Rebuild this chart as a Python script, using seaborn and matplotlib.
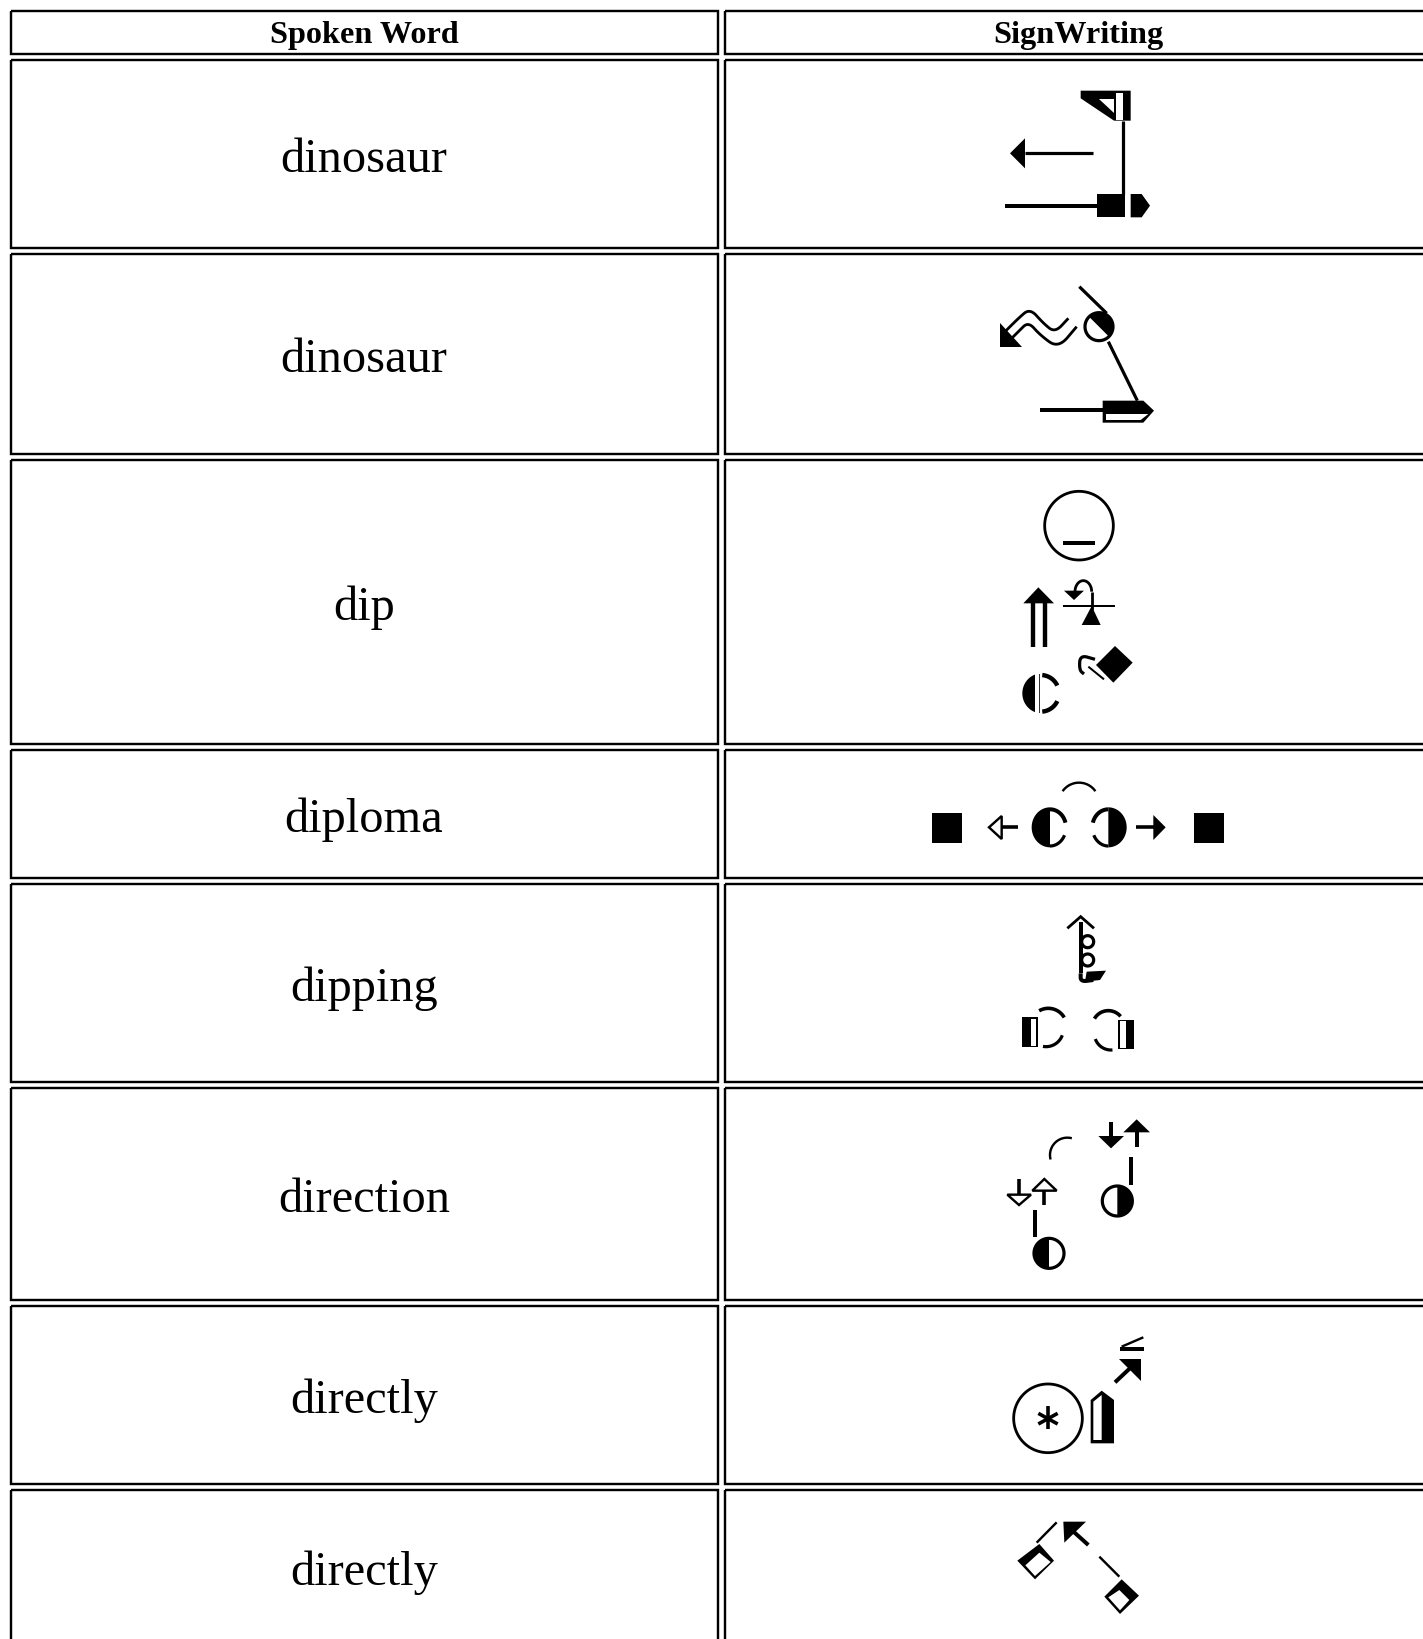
import numpy as np
import matplotlib
matplotlib.use("Agg")
import matplotlib.pyplot as plt
import seaborn as sns

# table content
headers = ["Spoken Word", "SignWriting"]
words = ["dinosaur", "dinosaur", "dip", "diploma", "dipping", "direction", "directly", "directly"]

# table layout in pixels
row_tops = [10.5, 60, 254, 460, 750, 884, 1088, 1306, 1490]
row_bottoms = [53.5, 248, 454, 744, 878, 1082, 1300, 1484, 1644]
col_lefts = [10.5, 724.5]
col_rights = [717.5, 1440]
col_centers = [364, 1078]

sns.set_theme(style="white")
plt.rcParams['font.family'] = ['Liberation Serif', 'DejaVu Sans']

fig = plt.figure(figsize=(14.23, 16.39), dpi=100)
ax = fig.add_axes([0, 0, 1, 1])


def px(width):
    return width * 72 / 100


def stroke(xs, ys, width=2.0):
    sns.lineplot(x=xs, y=ys, sort=False, estimator=None, errorbar=None, color='black',
                 linewidth=px(width), ax=ax, solid_capstyle='butt', solid_joinstyle='miter')


def smooth(pts, rounds=4):
    """Corner cutting, so a few hand picked points give a curve."""
    pts = np.asarray(pts, dtype=float)
    for _ in range(rounds):
        q = pts[:-1] * 0.75 + pts[1:] * 0.25
        r = pts[:-1] * 0.25 + pts[1:] * 0.75
        mid = np.empty((len(q) * 2, 2))
        mid[0::2] = q
        mid[1::2] = r
        pts = np.vstack([pts[0], mid, pts[-1]])
    return pts


class Glyph:
    """Draws in the coordinates of a 3x crop whose corner is at (ox, oy)."""

    def __init__(self, ox, oy):
        self.ox = ox
        self.oy = oy

    def xy(self, pts):
        pts = np.asarray(pts, dtype=float)
        return self.ox + pts[:, 0] / 3, self.oy + pts[:, 1] / 3

    def line(self, pts, w=8):
        xs, ys = self.xy(pts)
        stroke(xs, ys, w * 1.2 / 3)

    def curve(self, pts, w=8):
        self.line(smooth(pts), w)

    def arc(self, cx, cy, r, a0, a1, w=8, ry=None):
        ry = r if ry is None else ry
        t = np.radians(np.linspace(a0, a1, 40))
        self.line(np.column_stack([cx + r * np.cos(t), cy + ry * np.sin(t)]), w)

    def poly(self, pts, fc='black', ec=None, w=6):
        xs, ys = self.xy(pts)
        ax.fill(xs, ys, facecolor=fc, edgecolor=ec if ec else 'none',
                linewidth=px(w * 1.2 / 3) if ec else 0, zorder=3)

    def rect(self, x0, y0, x1, y1, fc='black'):
        self.poly([(x0, y0), (x1, y0), (x1, y1), (x0, y1)], fc=fc)

    def half(self, cx, cy, rx, a0, a1, ry=None):
        ry = rx if ry is None else ry
        t = np.radians(np.linspace(a0, a1, 60))
        self.poly(np.column_stack([cx + rx * np.cos(t), cy + ry * np.sin(t)]))

    def ring(self, cx, cy, r, w=7, fc='none'):
        t = np.radians(np.linspace(0, 360, 120))
        self.poly(np.column_stack([cx + r * np.cos(t), cy + r * np.sin(t)]), fc=fc, ec='black', w=w)


def draw_table():
    for top, bottom in zip(row_tops, row_bottoms):
        for left, right in zip(col_lefts, col_rights):
            stroke([left, right, right, left, left], [top, top, bottom, bottom, top], 2.4)
    for center, head in zip(col_centers, headers):
        ax.text(center, (row_tops[0] + row_bottoms[0]) / 2 + 11, head, fontsize=23.2, fontweight='bold',
                ha='center', va='baseline', color='black')
    for top, bottom, word in zip(row_tops[1:], row_bottoms[1:], words):
        ax.text(col_centers[0], (top + bottom) / 2 + 18, word, fontsize=34.8,
                ha='center', va='baseline', color='black')


def draw_dinosaurs():
    g = Glyph(930, 60)
    # first sign
    g.poly([(452, 92), (602, 92), (602, 182), (552, 182), (452, 115)])
    g.poly([(508, 118), (553, 118), (553, 158)], fc='white')
    g.rect(557, 100, 578, 180, fc='white')
    g.line([(578, 182), (578, 405)])
    g.poly([(240, 280), (285, 235), (285, 325)])
    g.line([(285, 280), (488, 280)])
    g.line([(225, 437), (505, 437)], 10)
    g.rect(500, 402, 585, 472)
    g.poly([(602, 402), (635, 402), (660, 437), (635, 472), (602, 472)])
    # second sign
    g.line([(448, 680), (530, 760)])
    g.ring(507, 800, 42, 8, fc='white')
    g.half(507, 800, 42, -135, 45)
    g.line([(535, 845), (622, 1022)])
    g.curve([(415, 775), (375, 818), (340, 790), (300, 745), (265, 775), (225, 815)], 7)
    g.curve([(440, 800), (385, 865), (330, 825), (295, 785), (265, 815), (240, 840)], 7)
    g.poly([(210, 790), (210, 860), (275, 860)])
    g.line([(330, 1049), (520, 1049)], 10)
    g.poly([(518, 1022), (640, 1022), (672, 1052), (640, 1088), (518, 1088)])
    g.poly([(528, 1062), (655, 1062), (632, 1080), (528, 1080)], fc='white')


def draw_dip():
    g = Glyph(980, 470)
    g.ring(297, 167, 103, 7)
    g.line([(250, 220), (345, 220)], 10)
    g.poly([(175, 352), (222, 400), (130, 400)])
    g.line([(158, 400), (158, 532)], 11)
    g.line([(195, 400), (195, 532)], 11)
    g.line([(248, 408), (405, 408)], 5)
    g.line([(335, 420), (335, 365)], 7)
    g.arc(310, 365, 25, 0, -180, 7, ry=33)
    g.poly([(252, 362), (312, 362), (282, 390)])
    g.poly([(335, 408), (305, 465), (362, 465)])
    g.poly([(405, 528), (458, 578), (400, 638), (348, 585)])
    g.curve([(345, 568), (300, 555), (298, 600), (312, 612)], 8)
    g.line([(325, 590), (372, 628)], 5)
    g.half(185, 670, 58, 100, 260, ry=60)
    g.rect(165, 608, 177, 732, fc='white')
    g.line([(178, 612), (178, 728)], 4)
    g.arc(182, 670, 55, -85, -25, 11)
    g.arc(182, 670, 55, 85, 25, 11)


def draw_diploma_dipping():
    g = Glyph(910, 760)
    # diploma
    g.rect(65, 160, 157, 250)
    g.rect(852, 160, 943, 250)
    g.poly([(237, 202), (275, 168), (275, 237)], fc='white', ec='black', w=6)
    g.line([(275, 202), (325, 202)], 9)
    g.line([(678, 202), (732, 202)], 9)
    g.poly([(730, 165), (767, 202), (730, 240)])
    g.half(420, 202, 55, 90, 270, ry=60)
    g.arc(420, 202, 48, -90, -15, 10, ry=54)
    g.arc(420, 202, 48, 90, 25, 8, ry=56)
    g.half(595, 202, 55, -90, 90, ry=60)
    g.arc(595, 202, 48, -90, -165, 10, ry=54)
    g.arc(595, 202, 48, 90, 155, 8, ry=56)
    g.arc(507, 128, 60, -145, -35, 6)
    # dipping
    g.line([(472, 505), (512, 470), (552, 505)], 7)
    g.ring(533, 545, 18, 8)
    g.ring(533, 600, 18, 8)
    g.line([(512, 485), (512, 640)], 10)
    g.curve([(512, 640), (512, 665), (550, 660)], 10)
    g.poly([(530, 635), (588, 632), (570, 660), (525, 665)])
    g.rect(337, 772, 383, 862)
    g.rect(362, 777, 379, 858, fc='white')
    g.arc(415, 800, 55, -120, -30, 9)
    g.arc(408, 808, 52, 100, 20, 8)
    g.rect(625, 780, 672, 868)
    g.rect(629, 784, 648, 864, fc='white')
    g.arc(595, 800, 48, -150, -40, 9)
    g.arc(603, 820, 50, 85, 160, 8)


def draw_direction():
    g = Glyph(980, 1100)
    g.arc(262, 165, 52, -75, -195, 6)
    g.line([(393, 65), (393, 112)], 10)
    g.poly([(355, 108), (432, 108), (393, 145)])
    g.poly([(470, 58), (510, 97), (430, 97)])
    g.line([(470, 97), (470, 140)], 10)
    g.line([(453, 172), (453, 255)], 10)
    g.ring(412, 303, 45, 8)
    g.half(412, 303, 45, -90, 90)
    g.line([(117, 238), (117, 285)], 9)
    g.poly([(82, 284), (153, 284), (117, 315)], fc='white', ec='black', w=6)
    g.poly([(193, 237), (230, 272), (157, 272)], fc='white', ec='black', w=6)
    g.line([(193, 272), (193, 315)], 9)
    g.line([(165, 330), (165, 410)], 10)
    g.ring(207, 460, 45, 8)
    g.half(207, 460, 45, 90, 270)


def draw_directly():
    g = Glyph(980, 1320)
    # first sign
    g.ring(204, 295, 103, 7)
    g.line([(204, 258), (204, 328)], 9)
    g.line([(175, 280), (233, 312)], 9)
    g.line([(233, 280), (175, 312)], 9)
    g.poly([(332, 240), (365, 212), (402, 240), (402, 370), (332, 370)])
    g.poly([(340, 245), (365, 225), (365, 360), (340, 360)], fc='white')
    g.poly([(418, 118), (482, 118), (482, 182)])
    g.line([(405, 187), (455, 140)], 10)
    g.line([(420, 87), (492, 87)], 10)
    g.line([(425, 80), (490, 52)], 6)
    # second sign
    g.line([(230, 607), (170, 668)], 6)
    g.poly([(178, 672), (222, 722), (165, 778), (112, 722)])
    g.poly([(178, 698), (212, 726), (165, 768), (136, 736)], fc='white')
    g.poly([(250, 605), (318, 605), (253, 668)])
    g.line([(275, 630), (325, 675)], 10)
    g.line([(358, 710), (418, 770)], 6)
    g.poly([(425, 778), (477, 827), (420, 882), (373, 830)])
    g.poly([(418, 810), (448, 840), (420, 871), (385, 832)], fc='white')


def main():
    draw_table()
    draw_dinosaurs()
    draw_dip()
    draw_diploma_dipping()
    draw_direction()
    draw_directly()

    ax.set_xlim(0, 1423)
    ax.set_ylim(1639, 0)
    ax.set_axis_off()
    fig.savefig('out.png', dpi=100, facecolor='white')
    plt.close(fig)


if __name__ == "__main__":
    main()
